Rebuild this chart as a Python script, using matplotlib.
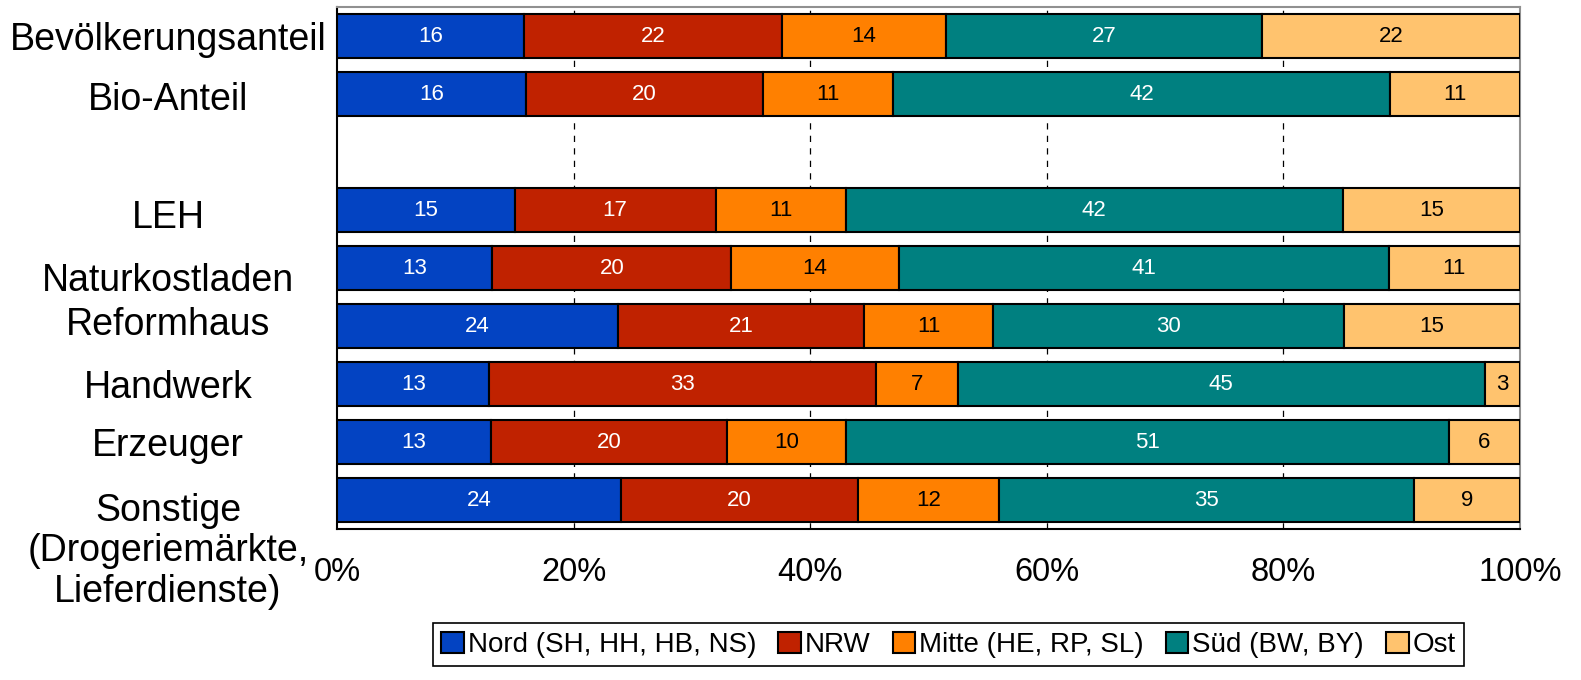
import numpy as np
import matplotlib
matplotlib.use("Agg")
import matplotlib.pyplot as plt
from matplotlib.transforms import ScaledTranslation

plt.rcParams['font.family'] = ['Liberation Sans', 'DejaVu Sans']

# Data
categories = ["Bevölkerungsanteil", "Bio-Anteil", "", "LEH", "Naturkostladen",
              "Reformhaus", "Handwerk", "Erzeuger",
              "Sonstige\n(Drogeriemärkte,\nLieferdienste)"]
regions = ["Nord (SH, HH, HB, NS)", "NRW", "Mitte (HE, RP, SL)", "Süd (BW, BY)", "Ost"]
nord = [16, 16, None, 15, 13, 24, 13, 13, 24]
nrw = [22, 20, None, 17, 20, 21, 33, 20, 20]
mitte = [14, 11, None, 11, 14, 11, 7, 10, 12]
sued = [27, 42, None, 42, 41, 30, 45, 51, 35]
ost = [22, 11, None, 15, 11, 15, 3, 6, 9]

colors = ["#0343C2", "#C02200", "#FF8000", "#008080", "#FFC36E"]
text_colors = ["white", "white", "black", "white", "black"]
# vertical nudge of the row labels (points, positive = down)
label_dy = [3, 4.5, 0, 5.5, 9.5, -0.5, 2.7, 2.7, 37]

series = [nord, nrw, mitte, sued, ost]

fig = plt.figure(figsize=(15.81, 6.8), dpi=100)
ax = fig.add_axes([0.2132, 0.222, 0.7482, 0.7676])

y = np.arange(len(categories))
for i, cat in enumerate(categories):
    if nord[i] is None:
        continue
    vals = np.array([s[i] for s in series], dtype=float)
    widths = vals / vals.sum()
    lefts = np.concatenate([[0], np.cumsum(widths)[:-1]])
    for k in range(len(series)):
        ax.barh(y[i], widths[k], left=lefts[k], height=0.75, color=colors[k],
                edgecolor="black", linewidth=1.5, zorder=3,
                label=regions[k] if i == 0 else None)
        ax.text(lefts[k] + widths[k] / 2, y[i], str(int(vals[k])), ha="center",
                va="center", fontsize=16, color=text_colors[k], zorder=4)

ax.set_xlim(0, 1)
ax.set_ylim(len(categories) - 0.5, -0.5)
ax.set_xticks([0, 0.2, 0.4, 0.6, 0.8, 1.0])
ax.set_xticklabels(["0%", "20%", "40%", "60%", "80%", "100%"], fontsize=23.5)
ax.tick_params(axis="x", length=0, pad=20)
ax.set_yticks([])
for xv in [0.2, 0.4, 0.6, 0.8]:
    ax.axvline(xv, color="black", linestyle=(0, (5, 5)), linewidth=0.9, zorder=1)

for side in ["left", "bottom"]:
    ax.spines[side].set_color("black")
    ax.spines[side].set_linewidth(1.5)
for side in ["top", "right"]:
    ax.spines[side].set_color("#909090")
    ax.spines[side].set_linewidth(1.5)

# row labels
trans = ax.get_yaxis_transform()
for i, cat in enumerate(categories):
    if not cat:
        continue
    t = ax.text(-0.143, y[i], cat, ha="center", va="center", fontsize=27,
                linespacing=1.17, transform=trans)
    t.set_transform(trans + ScaledTranslation(0, -label_dy[i] / 72, fig.dpi_scale_trans))

leg = fig.legend(loc="lower center", bbox_to_anchor=(0.6, 0.0), ncol=5,
                 prop={"family": ["Liberation Sans Narrow", "Liberation Sans"], "size": 20},
                 handlelength=0.8, handleheight=0.8, handletextpad=0.15,
                 columnspacing=0.8, borderpad=0.3, fancybox=False,
                 edgecolor="black", framealpha=1)
leg.get_frame().set_linewidth(1.2)

fig.savefig("out.png", dpi=100)
